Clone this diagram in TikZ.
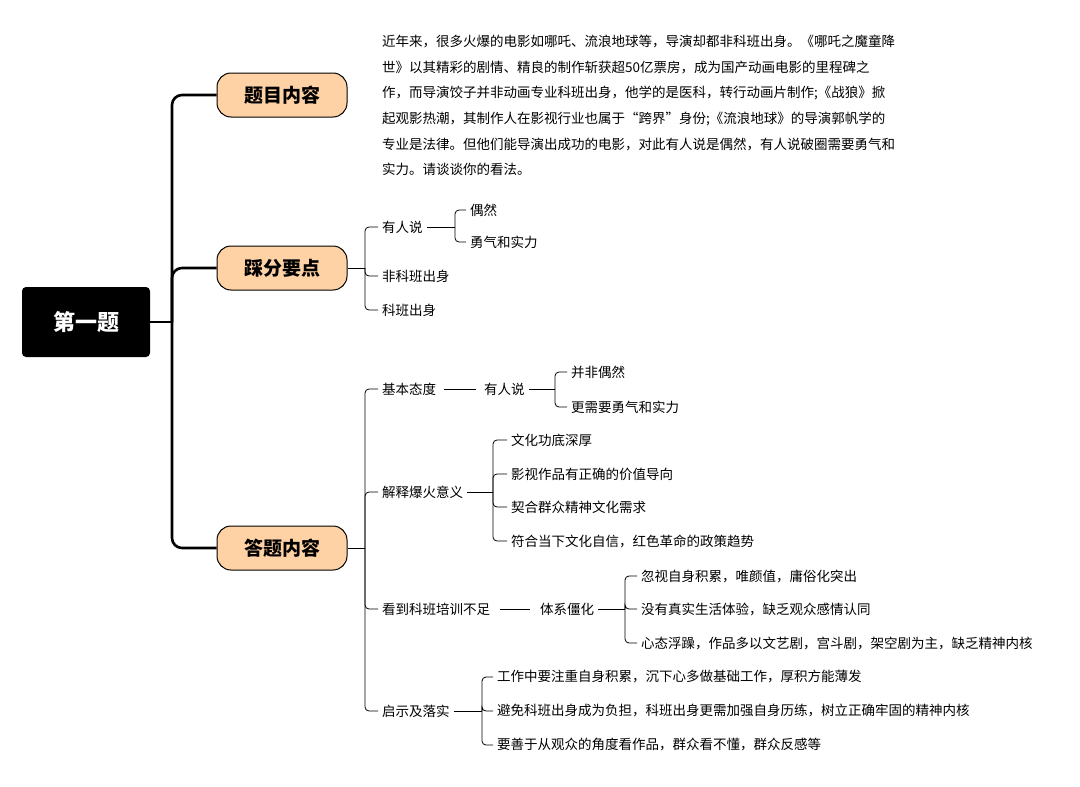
\documentclass[tikz,border=0pt]{standalone}
\usepackage{fontspec}
\setmainfont{Noto Sans CJK SC}
\begin{document}
\begin{tikzpicture}[x=1pt,y=-1pt,
  leaf/.style={anchor=west,inner xsep=4pt,inner ysep=1pt,font=\fontsize{13.5}{16}\selectfont},
  br/.style={draw,thick,rounded corners=4pt},
  main/.style={draw,line width=1pt,rounded corners=14pt,fill=orange!35!white,minimum width=130pt,minimum height=44pt,font=\fontsize{19}{22}\selectfont\bfseries},
  trunk/.style={draw,line width=2.6pt,rounded corners=10pt}]
\useasboundingbox (0,0) rectangle (1080,787);
\node[fill=black,rounded corners=4pt,minimum width=128pt,minimum height=70pt,text=white,font=\fontsize{22}{26}\selectfont\bfseries] (root) at (86,322) {第一题};
\node[main] (b1) at (282,95) {题目内容};
\node[main] (b2) at (282,268) {踩分要点};
\node[main] (b3) at (282,548) {答题内容};
\coordinate (t) at (172,322);
\draw[line width=2.6pt] (root.east) -- (t);
\draw[trunk] (t) |- (b1.west);
\draw[trunk] (t) |- (b2.west);
\draw[trunk] (t) |- (b3.west);
% branch 1
\node[anchor=north west,align=left,inner sep=0pt,font=\fontsize{13.5}{25.6}\selectfont] (txt) at (382,35) {近年来，很多火爆的电影如哪吒、流浪地球等，导演却都非科班出身。《哪吒之魔童降\\世》以其精彩的剧情、精良的制作斩获超50亿票房，成为国产动画电影的里程碑之\\作，而导演饺子并非动画专业科班出身，他学的是医科，转行动画片制作;《战狼》掀\\起观影热潮，其制作人在影视行业也属于“跨界”身份;《流浪地球》的导演郭帆学的\\专业是法律。但他们能导演出成功的电影，对此有人说是偶然，有人说破圈需要勇气和\\实力。请谈谈你的看法。};
% branch 2
\coordinate (j2) at (365,268);
\draw[thick] (b2.east) -- (j2);
\node[leaf] (c21) at (378,227) {有人说};
\node[leaf] (c22) at (378,276) {非科班出身};
\node[leaf] (c23) at (378,310) {科班出身};
\foreach \c in {c21,c22,c23} \draw[br] (j2) |- (\c.west);
\coordinate (j21) at (455,227);
\draw[thick] (c21.east) -- (j21);
\node[leaf] (c211) at (466,210) {偶然};
\node[leaf] (c212) at (466,242) {勇气和实力};
\foreach \c in {c211,c212} \draw[br] (j21) |- (\c.west);
% branch 3
\coordinate (j3) at (365,548);
\draw[thick] (b3.east) -- (j3);
\node[leaf] (d1) at (378,389) {基本态度};
\node[leaf] (d2) at (378,492) {解释爆火意义};
\node[leaf] (d3) at (378,609) {看到科班培训不足};
\node[leaf] (d4) at (378,711) {启示及落实};
\foreach \c in {d1,d2,d3,d4} \draw[br] (j3) |- (\c.west);
\node[leaf] (d1a) at (480,389) {有人说};
\draw[thick] ([xshift=4pt]d1.east) -- ([xshift=-4pt]d1a.west);
\coordinate (j1a) at (555,389);
\draw[thick] (d1a.east) -- (j1a);
\node[leaf] (e1) at (567,372) {并非偶然};
\node[leaf] (e2) at (567,407) {更需要勇气和实力};
\foreach \c in {e1,e2} \draw[br] (j1a) |- (\c.west);
\coordinate (j2a) at (493,492);
\draw[thick] (d2.east) -- (j2a);
\node[leaf] (f1) at (507,440) {文化功底深厚};
\node[leaf] (f2) at (507,474) {影视作品有正确的价值导向};
\node[leaf] (f3) at (507,507) {契合群众精神文化需求};
\node[leaf] (f4) at (507,541) {符合当下文化自信，红色革命的政策趋势};
\foreach \c in {f1,f2,f3,f4} \draw[br] (j2a) |- (\c.west);
\node[leaf] (d3a) at (536,609) {体系僵化};
\draw[thick] ([xshift=6pt]d3.east) -- ([xshift=-6pt]d3a.west);
\coordinate (j3a) at (625,609);
\draw[thick] (d3a.east) -- (j3a);
\node[leaf] (g1) at (637,576) {忽视自身积累，唯颜值，庸俗化突出};
\node[leaf] (g2) at (637,609) {没有真实生活体验，缺乏观众感情认同};
\node[leaf] (g3) at (637,643) {心态浮躁，作品多以文艺剧，宫斗剧，架空剧为主，缺乏精神内核};
\foreach \c in {g1,g2,g3} \draw[br] (j3a) |- (\c.west);
\coordinate (j4a) at (482,711);
\draw[thick] (d4.east) -- (j4a);
\node[leaf] (h1) at (493,677) {工作中要注重自身积累，沉下心多做基础工作，厚积方能薄发};
\node[leaf] (h2) at (493,711) {避免科班出身成为负担，科班出身更需加强自身历练，树立正确牢固的精神内核};
\node[leaf] (h3) at (493,745) {要善于从观众的角度看作品，群众看不懂，群众反感等};
\foreach \c in {h1,h2,h3} \draw[br] (j4a) |- (\c.west);
\end{tikzpicture}
\end{document}
